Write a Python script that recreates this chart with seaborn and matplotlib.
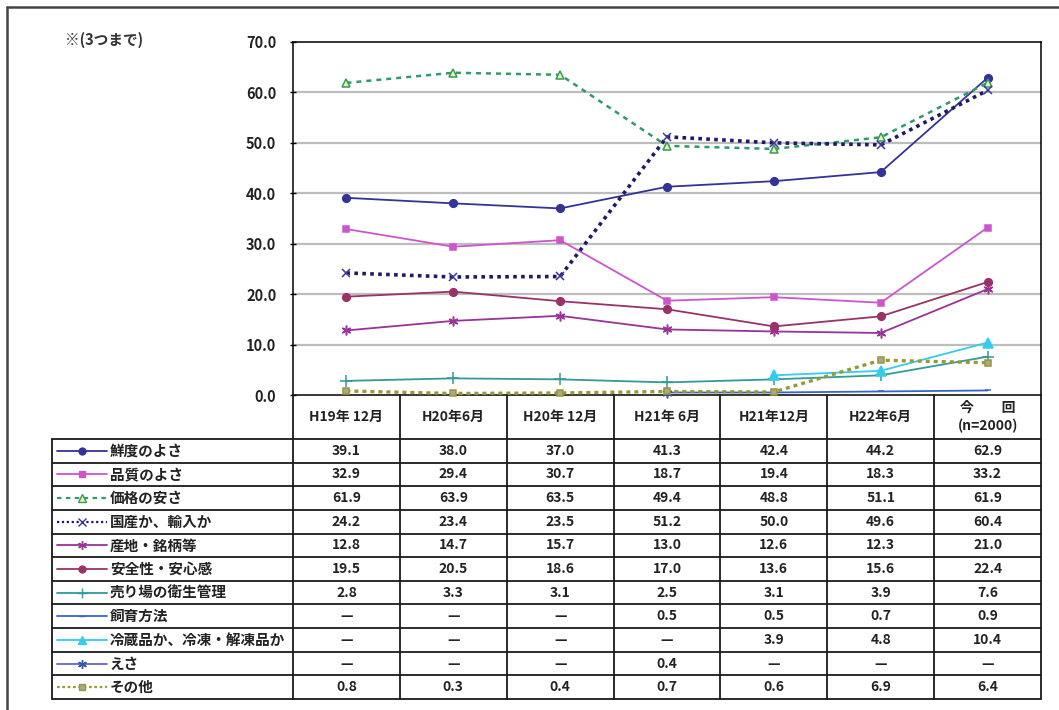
import numpy as np
import pandas as pd
import matplotlib
matplotlib.use("Agg")
import matplotlib.pyplot as plt
from matplotlib.lines import Line2D
import seaborn as sns

sns.set_theme(style="white")
plt.rcParams["font.family"] = ["Noto Sans CJK JP", "DejaVu Sans"]

# ---- data -------------------------------------------------------------
periods = ["H19年 12月", "H20年6月", "H20年 12月", "H21年 6月",
           "H21年12月", "H22年6月", "今　　回\n(n=2000)"]

items = ["鮮度のよさ", "品質のよさ", "価格の安さ", "国産か、輸入か",
         "産地・銘柄等", "安全性・安心感", "売り場の衛生管理", "飼育方法",
         "冷蔵品か、冷凍・解凍品か", "えさ", "その他"]

nan = np.nan
freshness = [39.1, 38.0, 37.0, 41.3, 42.4, 44.2, 62.9]
quality = [32.9, 29.4, 30.7, 18.7, 19.4, 18.3, 33.2]
price = [61.9, 63.9, 63.5, 49.4, 48.8, 51.1, 61.9]
origin_domestic = [24.2, 23.4, 23.5, 51.2, 50.0, 49.6, 60.4]
region_brand = [12.8, 14.7, 15.7, 13.0, 12.6, 12.3, 21.0]
safety = [19.5, 20.5, 18.6, 17.0, 13.6, 15.6, 22.4]
store_hygiene = [2.8, 3.3, 3.1, 2.5, 3.1, 3.9, 7.6]
rearing = [nan, nan, nan, 0.5, 0.5, 0.7, 0.9]
chilled_frozen = [nan, nan, nan, nan, 3.9, 4.8, 10.4]
feed = [nan, nan, nan, 0.4, nan, nan, nan]
other = [0.8, 0.3, 0.4, 0.7, 0.6, 6.9, 6.4]

series = [freshness, quality, price, origin_domestic, region_brand, safety,
          store_hygiene, rearing, chilled_frozen, feed, other]

yticks = [0, 10, 20, 30, 40, 50, 60, 70]
note = "※(3つまで)"

# ---- styles -----------------------------------------------------------
asterisk = (6, 2, 0)
styles = [
    dict(color="#333399", ls="-", lw=1.3, marker="o", ms=5.5, mfc="#333399", mec="#333399"),
    dict(color="#CC55CC", ls="-", lw=1.3, marker="s", ms=5, mfc="#CC55CC", mec="#CC55CC"),
    dict(color="#339966", ls=(0, (2, 2)), lw=1.8, marker="^", ms=6, mfc="#EEF5A0", mec="#339966"),
    dict(color="#1F1A66", ls=(0, (1, 1.2)), lw=2.6, marker="x", ms=6, mfc="#1F1A66", mec="#3A3A99"),
    dict(color="#993399", ls="-", lw=1.3, marker=asterisk, ms=7, mfc="#993399", mec="#993399"),
    dict(color="#993366", ls="-", lw=1.3, marker="o", ms=5.5, mfc="#993366", mec="#993366"),
    dict(color="#339999", ls="-", lw=1.3, marker="+", ms=8, mfc="#339999", mec="#339999"),
    dict(color="#3366CC", ls="-", lw=1.3, marker="_", ms=5, mfc="#3366CC", mec="#3366CC"),
    dict(color="#33CCEE", ls="-", lw=1.3, marker="^", ms=6.5, mfc="#33CCEE", mec="#33CCEE"),
    dict(color="#6666CC", ls="-", lw=1.3, marker=asterisk, ms=7, mfc="#3355AA", mec="#3355AA"),
    dict(color="#999933", ls=(0, (1.2, 1.2)), lw=2.4, marker="s", ms=5, mfc="#A8A890", mec="#999933"),
]

# ---- figure / axes ----------------------------------------------------
W, H = 1059, 710
fig = plt.figure(figsize=(W / 100, H / 100), dpi=100)
fig.patch.set_facecolor("white")

x_left, x_right = 293, 1041
y_top, y_bot = 42, 395
tab_left, tab_bot = 52, 699

ax = fig.add_axes([x_left / W, 1 - y_bot / H, (x_right - x_left) / W, (y_bot - y_top) / H])
n = len(periods)
xpos = np.arange(n)

ax.set_xlim(-0.5, n - 0.5)
ax.set_ylim(0, 70)
ax.set_yticks(yticks)
ax.set_yticklabels([f"{v:.1f}" for v in yticks], fontsize=10.5, fontweight="bold", color="#222222")
ax.set_xticks([])
ax.tick_params(axis="y", direction="inout", length=4, width=1, color="black", pad=10, left=True)
for y in yticks[1:-1]:
    ax.axhline(y, color="#BDBDBD", lw=1.6, zorder=0)
for s in ax.spines.values():
    s.set_color("black")
    s.set_linewidth(1.1)

for vals, st in zip(series, styles):
    df = pd.DataFrame({"x": xpos, "y": vals}).dropna()
    sns.lineplot(data=df, x="x", y="y", ax=ax, color=st["color"], linestyle=st["ls"],
                 linewidth=st["lw"], marker=st["marker"], markersize=st["ms"],
                 markerfacecolor=st["mfc"], markeredgecolor=st["mec"], markeredgewidth=1.1,
                 legend=False, clip_on=False, zorder=3)
ax.set_xlabel("")
ax.set_ylabel("")

# ---- data table under the chart ---------------------------------------
col_w = (x_right - x_left) / n
lab_w = (x_left - tab_left) / col_w
n_rows = len(items)
row_h = (tab_bot - (y_bot + 44)) / n_rows
head_h = 44 / row_h

axt = fig.add_axes([tab_left / W, 1 - tab_bot / H, (x_right - tab_left) / W, (tab_bot - y_bot) / H])
axt.set_xlim(-0.5 - lab_w, n - 0.5)
axt.set_ylim(n_rows, -head_h)
axt.axis("off")

lc, lw_t = "#1A1A1A", 1.3
x0 = -0.5 - lab_w
for k in range(n + 1):
    axt.plot([k - 0.5, k - 0.5], [-head_h, n_rows], color=lc, lw=lw_t, clip_on=False)
axt.plot([x0, x0], [0, n_rows], color=lc, lw=lw_t, clip_on=False)
for r in range(n_rows + 1):
    axt.plot([x0, n - 0.5], [r, r], color=lc, lw=lw_t, clip_on=False)

txt_color = "#222222"
for i, p in enumerate(periods):
    axt.text(i, -head_h / 2, p, ha="center", va="center", fontsize=10,
             fontweight="bold", color=txt_color, linespacing=1.3)

for r, (name, vals, st) in enumerate(zip(items, series, styles)):
    yc = r + 0.5
    # legend key
    kx0 = x0 + 5 / col_w
    kx1 = x0 + 55 / col_w
    axt.plot([kx0, kx1], [yc, yc], color=st["color"], ls=st["ls"],
             lw=min(st["lw"], 1.6), clip_on=False)
    axt.plot([(kx0 + kx1) / 2], [yc], marker=st["marker"], ms=st["ms"] * 0.9,
             mfc=st["mfc"], mec=st["mec"], mew=1.0, ls="none", clip_on=False)
    axt.text(x0 + 58 / col_w, yc, name, ha="left", va="center", fontsize=10.5,
             fontweight="bold", color=txt_color)
    for i, v in enumerate(vals):
        s = "—" if np.isnan(v) else f"{v:.1f}"
        axt.text(i, yc, s, ha="center", va="center", fontsize=10,
                 fontweight="bold", color=txt_color)

# ---- note and outer frame ---------------------------------------------
fig.text(65 / W, 1 - 40 / H, note, ha="left", va="center", fontsize=10.5,
         fontweight="bold", color="#333333")
fig.add_artist(Line2D([7 / W, 7 / W], [0, 1 - 7 / H], transform=fig.transFigure,
                      color="#444444", lw=1.8))
fig.add_artist(Line2D([7 / W, 1], [1 - 7 / H, 1 - 7 / H], transform=fig.transFigure,
                      color="#444444", lw=1.8))

fig.savefig("out.png", dpi=100, facecolor="white")
